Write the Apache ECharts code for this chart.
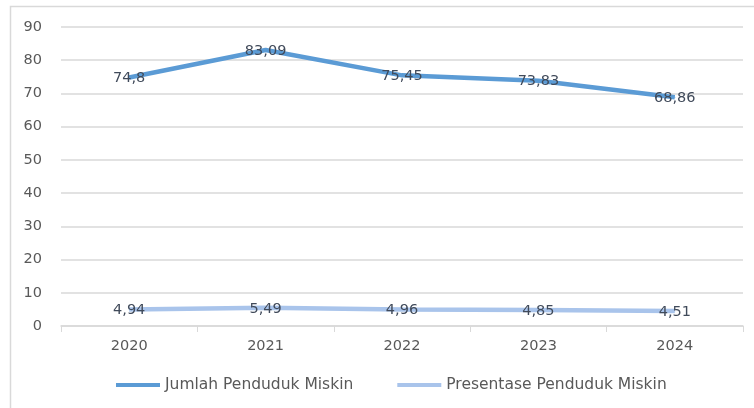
<!DOCTYPE html>
<html><head><meta charset="utf-8">
<script src="https://cdn.jsdelivr.net/npm/echarts@6/dist/echarts.min.js"></script>
<style>html,body{margin:0;padding:0;background:#fff}#c{width:754px;height:408px}</style>
</head><body><div id="c"></div>
<script>
const categories = ['2020','2021','2022','2023','2024'];
const jumlah = [74.8, 83.09, 75.45, 73.83, 68.86];
const persen = [4.94, 5.49, 4.96, 4.85, 4.51];
const seriesNames = ['Jumlah Penduduk Miskin','Presentase Penduduk Miskin'];
const yTicks = {min:0, max:90, interval:10};

const fmt = v => String(v).replace('.', ',');
const font = '"DejaVu Sans", sans-serif';
const txt = '#595959';
const chart = echarts.init(document.getElementById('c'));
chart.setOption({
  animation:false,
  textStyle:{fontFamily:font},
  graphic:[{type:'rect', shape:{x:10.5,y:6.5,width:780,height:440}, style:{fill:'none', stroke:'#D9D9D9', lineWidth:1.5}, silent:true}],
  grid:{left:61, right:11, top:27, bottom:82},
  legend:{bottom:10, left:111, itemWidth:44, itemHeight:4, itemGap:44,
    textStyle:{color:txt, fontSize:15.5, fontFamily:font}, icon:'rect'},
  xAxis:{type:'category', data:categories, boundaryGap:true,
    axisLine:{lineStyle:{color:'#D9D9D9', width:1.5}},
    axisTick:{show:true, length:6, lineStyle:{color:'#D9D9D9'}},
    axisLabel:{color:txt, fontSize:14.5, margin:13}},
  yAxis:{type:'value', min:yTicks.min, max:yTicks.max, interval:yTicks.interval,
    axisLine:{show:false}, axisTick:{show:false},
    splitLine:{lineStyle:{color:'#D9D9D9', width:1.5}},
    axisLabel:{color:txt, fontSize:14.5, margin:19}},
  series:[
    {name:seriesNames[0], type:'line', data:jumlah, symbol:'circle', symbolSize:1, showSymbol:true,
      lineStyle:{color:'#5B9BD5', width:4.5}, itemStyle:{color:'#5B9BD5'},
      label:{show:true, position:'inside', offset:[0,1], color:'#404a5a', fontSize:14.5, formatter:p=>fmt(p.value)}},
    {name:seriesNames[1], type:'line', data:persen, symbol:'circle', symbolSize:1, showSymbol:true,
      lineStyle:{color:'#A9C4EB', width:4.5}, itemStyle:{color:'#A9C4EB'},
      label:{show:true, position:'inside', offset:[0,1], color:'#404a5a', fontSize:14.5, formatter:p=>fmt(p.value)}}
  ]
});
</script></body></html>
